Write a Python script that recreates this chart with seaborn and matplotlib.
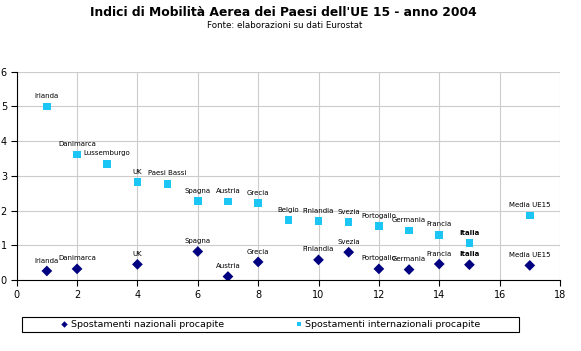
import numpy as np
import pandas as pd
import matplotlib
matplotlib.use("Agg")
import matplotlib.pyplot as plt
from matplotlib.patches import Rectangle
import seaborn as sns

# dati
paesi = ['Irlanda', 'Danimarca', 'Lussemburgo', 'UK', 'Paesi Bassi', 'Spagna', 'Austria',
         'Grecia', 'Belgio', 'Finlandia', 'Svezia', 'Portogallo', 'Germania', 'Francia',
         'Italia', 'Media UE15']
posizione = [1, 2, 3, 4, 5, 6, 7, 8, 9, 10, 11, 12, 13, 14, 15, 17]
nazionali = [0.26, 0.32, np.nan, 0.45, np.nan, 0.82, 0.10, 0.52, np.nan, 0.58, 0.80,
             0.32, 0.30, 0.46, 0.44, 0.42]
internazionali = [5.0, 3.62, 3.35, 2.82, 2.77, 2.27, 2.26, 2.21, 1.72, 1.70, 1.67,
                  1.55, 1.43, 1.30, 1.06, 1.86]

serie_naz = 'Spostamenti nazionali procapite'
serie_int = 'Spostamenti internazionali procapite'

df = pd.concat([
    pd.DataFrame({'Paese': paesi, 'x': posizione, 'y': nazionali, 'Serie': serie_naz}),
    pd.DataFrame({'Paese': paesi, 'x': posizione, 'y': internazionali, 'Serie': serie_int}),
]).dropna()

sns.set_style('white')
plt.rcParams['font.family'] = ['DejaVu Sans']
plt.rcParams['text.color'] = 'black'
plt.rcParams['xtick.color'] = 'black'
plt.rcParams['ytick.color'] = 'black'

fig = plt.figure(figsize=(5.81, 3.51), dpi=100)
ax = fig.add_axes([0.0287, 0.2023, 0.9351, 0.5934])

colori = {serie_naz: '#000080', serie_int: '#1CC6F4'}
marker = {serie_naz: 'D', serie_int: 's'}
sns.scatterplot(data=df, x='x', y='y', hue='Serie', style='Serie', palette=colori,
                markers=marker, s=30, linewidth=0, ax=ax, legend=True, zorder=3)

# etichette dei paesi
for _, r in df.iterrows():
    ax.annotate(r['Paese'], (r['x'], r['y']), xytext=(0, 7.5), textcoords='offset points',
                ha='center', va='center', fontsize=5,
                fontweight='bold' if r['Paese'] == 'Italia' else 'normal')

ax.set_xlim(0, 18)
ax.set_ylim(0, 6)
ax.set_xticks(range(0, 19, 2))
ax.set_yticks(range(0, 7))
ax.set_xlabel('')
ax.set_ylabel('')
ax.grid(True, color='#cccccc', linewidth=0.8)
ax.set_axisbelow(True)
for s in ['top', 'right']:
    ax.spines[s].set_visible(False)
for s in ['left', 'bottom']:
    ax.spines[s].set_color('black')
    ax.spines[s].set_linewidth(0.8)
ax.tick_params(axis='both', direction='out', length=4, width=0.8, color='black',
               labelsize=7, pad=3, left=True, bottom=True)

# legenda sotto il grafico con cornice
handles, labels = ax.get_legend_handles_labels()
ax.get_legend().remove()
fig.patches.append(Rectangle((0.0373, 0.0533), 0.8565, 0.0444, transform=fig.transFigure,
                             fill=False, edgecolor='black', linewidth=0.8))
fig.legend(handles, labels, loc='center', ncol=2, bbox_to_anchor=(0.4656, 0.0755),
           fontsize=6.8, frameon=False, handlelength=0.8, handletextpad=0.3,
           columnspacing=7.5, markerscale=0.6, borderpad=0)

fig.text(0.487, 0.965, "Indici di Mobilità Aerea dei Paesi dell'UE 15 - anno 2004",
         ha='center', va='center', fontsize=8.9, fontweight='bold')
fig.text(0.49, 0.928, 'Fonte: elaborazioni su dati Eurostat', ha='center', va='center',
         fontsize=6.3)

fig.savefig('out.png', dpi=100, facecolor='white')
